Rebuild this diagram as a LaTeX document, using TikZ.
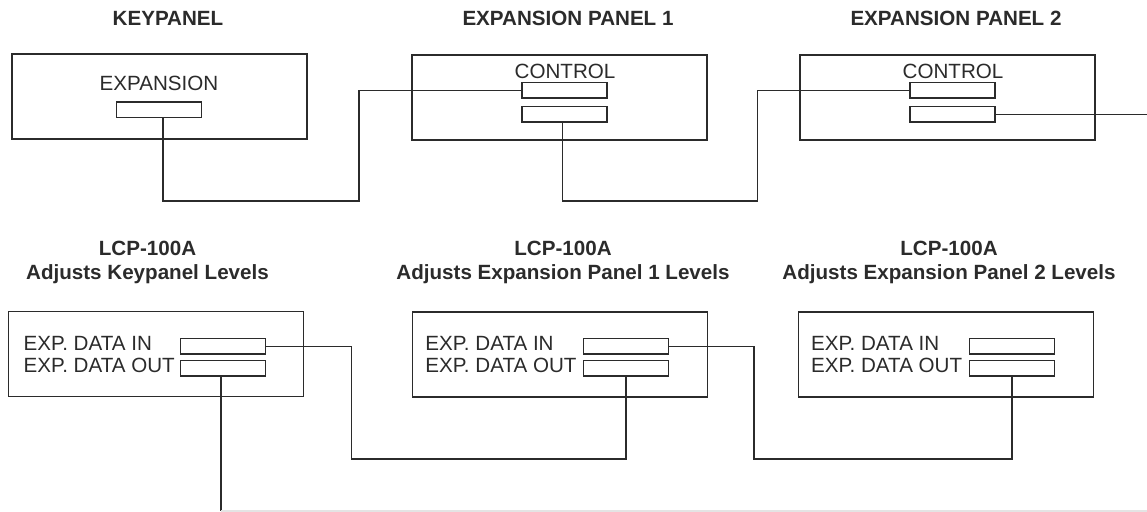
\documentclass[tikz,border=0pt]{standalone}
\usepackage{fontspec}
\setmainfont{Liberation Sans}
\definecolor{ink}{HTML}{2B2B2B}
\definecolor{faint}{HTML}{E4E4E4}
\tikzset{%
    panel/.style={draw=ink, line width=0.9pt, minimum width=147.5pt, minimum height=42.5pt, inner sep=0pt},
    port/.style={draw=ink, line width=0.8pt, minimum width=42.5pt, minimum height=7.7pt, inner sep=0pt},
    wire/.style={draw=ink, line width=0.75pt},
    heading/.style={font=\fontsize{10.3}{12.15}\selectfont\bfseries, text=ink, align=center, inner sep=0pt},
    paneltext/.style={font=\fontsize{10.3}{10.85}\selectfont, text=ink, inner sep=0pt}
}

\begin{document}
\begin{tikzpicture}[x=0.5pt, y=-0.5pt]
        \useasboundingbox (0,0) rectangle (1147,512);

        % panels in the top row
        \node[heading, anchor=base] (kptitle) at (168,25.7) {KEYPANEL};
        \node[heading, anchor=base] (eatitle) at (568,25.7) {EXPANSION PANEL 1};
        \node[heading, anchor=base] (ebtitle) at (956,25.7) {EXPANSION PANEL 2};

        \node[panel] (kp) at (159.7,96.5) {};
        \node[panel] (ea) at (559.5,97.5) {};
        \node[panel] (eb) at (947.5,97.5) {};

        \node[paneltext, anchor=base] (kptext) at (159,91) {EXPANSION};
        \node[paneltext, anchor=base] (eatext) at (565,78.5) {CONTROL};
        \node[paneltext, anchor=base] (ebtext) at (953,78.5) {CONTROL};

        \node[port] (kpexp) at (159,110) {};
        \node[port] (eain) at (564.5,90.3) {};
        \node[port] (eaout) at (564.5,114.3) {};
        \node[port] (ebin) at (952.2,90.3) {};
        \node[port] (ebout) at (952.2,114.3) {};

        \coordinate (bendA) at (359,201);
        \coordinate (bendB) at (757.7,201);
        \coordinate (ebend) at (1147,114.3);
        \draw[wire] ([xshift=2pt]kpexp.south) |- (bendA) |- (eain.west);
        \draw[wire] ([xshift=-1pt]eaout.south) |- (bendB) |- (ebin.west);
        \draw[wire] (ebout.east) -- (ebend);

        % level controllers in the bottom row
        \node[heading, anchor=base] (latitle) at (147.5,280) {LCP-100A\\Adjusts Keypanel Levels};
        \node[heading, anchor=base] (lbtitle) at (563,280) {LCP-100A\\Adjusts Expansion Panel 1 Levels};
        \node[heading, anchor=base] (lctitle) at (949,280) {LCP-100A\\Adjusts Expansion Panel 2 Levels};

        \node[panel] (la) at (156,354) {};
        \node[panel] (lb) at (560,354.5) {};
        \node[panel] (lc) at (946,354.5) {};

        \node[paneltext, anchor=base west, align=left] (latext) at (23.3,372.7) {EXP. DATA IN\\EXP. DATA OUT};
        \node[paneltext, anchor=base west, align=left] (lbtext) at (425,372.7) {EXP. DATA IN\\EXP. DATA OUT};
        \node[paneltext, anchor=base west, align=left] (lctext) at (810.7,372.7) {EXP. DATA IN\\EXP. DATA OUT};

        \node[port] (lain) at (222.8,346.3) {};
        \node[port] (laout) at (222.8,368.2) {};
        \node[port] (lbin) at (626,346.3) {};
        \node[port] (lbout) at (626,368.2) {};
        \node[port] (lcin) at (1011.8,346.3) {};
        \node[port] (lcout) at (1011.8,368.2) {};

        \coordinate (bendC) at (351.7,459);
        \coordinate (bendD) at (754,459);
        \coordinate (floor) at (220.8,511);
        \coordinate (floorend) at (1147,511);
        \draw[wire] (lain.east) -| (bendC) -| (lbout.south);
        \draw[wire] (lbin.east) -| (bendD) -| (lcout.south);
        \draw[wire] ([xshift=-1pt]laout.south) -- (floor);
        \draw[faint, line width=0.6pt] (floor) -- (floorend);
\end{tikzpicture}
\end{document}
